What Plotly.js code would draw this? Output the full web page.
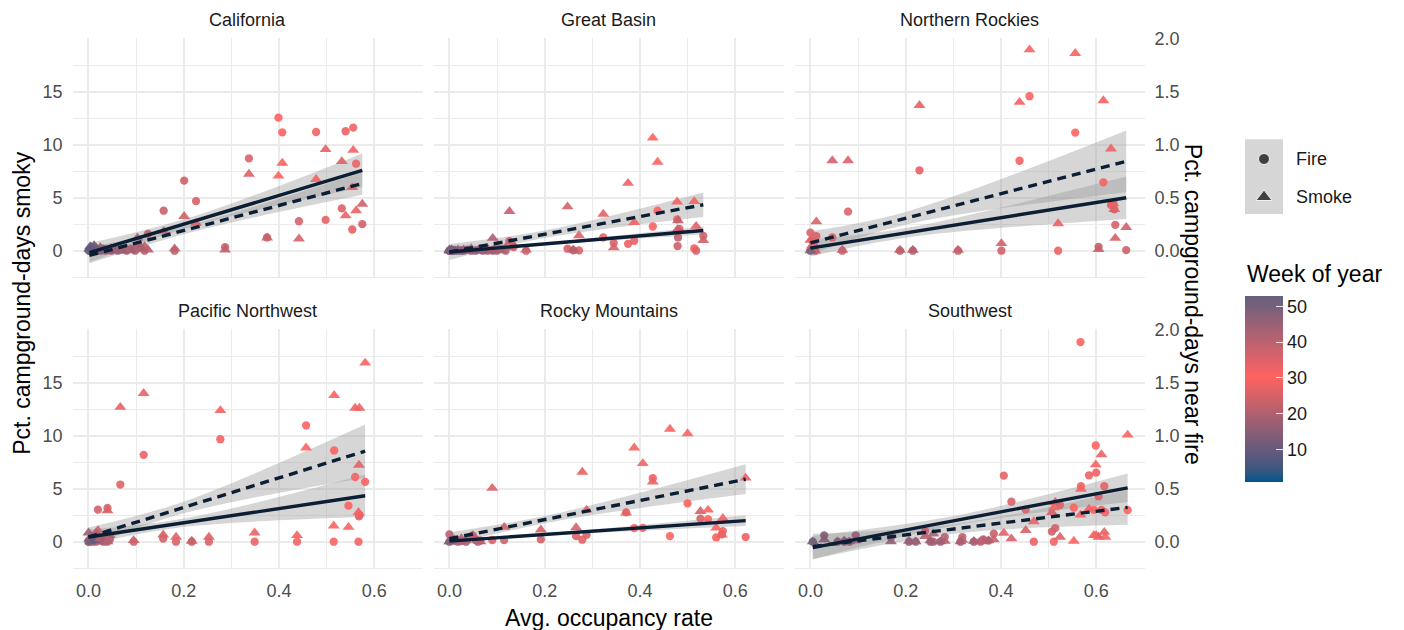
<!DOCTYPE html>
<html><head><meta charset="utf-8">
<script src="https://cdn.plot.ly/plotly-3.0.1.min.js"></script>
<style>html,body{margin:0;padding:0;background:#fff}#chart{width:1404px;height:630px}</style>
</head><body><div id="chart"></div>
<script>
// ---------------- DATA ----------------
const regions = ["California","Great Basin","Northern Rockies","Pacific Northwest","Rocky Mountains","Southwest"];

// California: avg occupancy, pct campground-days near fire, pct smoky, week of year
const occCA   = [0.399,0.407,0.478,0.540,0.556,0.562,0.337,0.201,0.226,0.158,0.125,0.442,0.498,0.532,0.554,0.575,0.375,0.287,0.181,0.103,
                 0.118,0.110,0.098,0.090,0.080,0.070,0.062,0.055,0.048,0.042,0.036,0.030,0.025,0.020,0.016,0.012,0.009,0.007,0.005,0.004,0.003,0.002];
const fireCA  = [1.254,1.116,1.119,1.126,1.160,0.820,0.870,0.660,0.468,0.377,0.159,0.278,0.290,0.399,0.200,0.250,0.125,0.034,0.000,0.030,
                 0.000,0.030,0.000,0.020,0.000,0.010,0.000,0.020,0.000,0.010,0.000,0.020,0.000,0.010,0.000,0.030,0.000,0.020,0.000,0.010,0.000,0.000];
const smokeCA = [7.05,8.26,6.73,3.30,9.48,3.77,7.23,3.24,2.59,1.84,0.09,1.12,9.54,8.42,5.96,4.40,1.22,0.09,0.19,1.20,
                 0.40,0.30,0.10,0.00,0.20,0.00,0.10,0.00,0.20,0.00,0.10,0.00,0.30,0.00,0.20,0.50,0.10,0.30,0.00,0.40,0.10,0.20];
const weekCA  = [31,30,29,28,32,33,26,24,25,23,21,36,34,35,27,37,38,39,22,20,
                 40,19,41,18,42,17,43,16,44,15,45,14,46,13,47,12,48,11,49,10,50,9];

// Great Basin
const occGB   = [0.427,0.437,0.375,0.248,0.126,0.323,0.478,0.514,0.388,0.272,0.483,0.518,0.345,0.533,0.161,0.091,0.480,0.479,0.260,0.135,
                 0.118,0.110,0.100,0.092,0.080,0.070,0.062,0.055,0.046,0.038,0.030,0.024,0.018,0.012,0.008,0.005,0.003,0.001,0.000,0.000];
const fireGB  = [0.228,0.377,0.065,0.019,0.090,0.125,0.296,0.022,0.094,0.003,0.206,0.000,0.072,0.140,0.000,0.000,0.125,0.044,0.003,0.034,
                 0.000,0.020,0.000,0.010,0.000,0.000,0.010,0.000,0.000,0.010,0.000,0.000,0.000,0.000,0.000,0.000,0.000,0.000,0.000,0.000];
const smokeGB = [10.63,8.36,6.36,4.15,3.71,3.46,4.61,4.65,2.68,1.43,1.96,2.31,0.28,0.97,0.09,1.18,2.84,2.00,0.10,0.50,
                 0.30,0.00,0.40,0.00,0.20,0.00,0.10,0.00,0.20,0.00,0.10,0.00,0.10,0.00,0.00,0.10,0.00,0.00,0.10,0.00];
const weekGB  = [30,31,28,25,23,27,32,29,33,26,34,35,36,24,37,19,22,38,21,39,
                 40,20,41,18,42,17,43,16,44,15,45,14,46,13,47,12,48,11,49,50];

// Northern Rockies
const occNR   = [0.460,0.556,0.439,0.615,0.229,0.046,0.079,0.631,0.636,0.638,0.640,0.520,0.663,0.401,0.605,0.067,0.188,0.215,0.310,0.0125,
                 0.000,0.004,0.008,0.002,0.010,0.000];
const fireNR  = [1.456,1.113,0.848,0.645,0.758,0.125,0.368,0.430,0.450,0.390,0.243,0.000,0.006,0.000,0.037,0.000,0.000,0.000,0.000,0.137,
                 0.170,0.095,0.050,0.020,0.000,0.000];
const smokeNR = [18.95,18.60,14.00,14.15,13.70,8.50,8.50,9.60,4.45,3.90,1.18,2.56,2.21,0.69,0.12,0.06,0.06,0.06,0.06,2.74,
                 1.00,0.50,0.00,0.30,0.00,0.00];
const weekNR  = [31,30,32,29,34,36,35,28,27,26,25,33,24,37,23,38,22,21,39,36,
                 35,34,37,33,38,50];

// Pacific Northwest
const occPNW   = [0.581,0.116,0.516,0.067,0.277,0.560,0.569,0.457,0.568,0.040,0.020,0.095,0.157,0.184,0.217,0.253,0.349,0.438,0.515,0.546,0.567,
                  0.000,0.002,0.004,0.008,0.012,0.016,0.025,0.032,0.040,0.045];
const firePNW  = [0.564,0.819,0.860,0.539,0.966,0.610,0.250,1.097,0.240,0.318,0.302,0.000,0.030,0.000,0.000,0.000,0.000,0.000,0.000,0.340,0.000,
                  0.000,0.000,0.010,0.000,0.020,0.000,0.010,0.000,0.000,0.020];
const smokePNW = [16.85,13.99,13.80,12.68,12.37,12.60,12.60,8.85,7.23,2.93,1.06,0.12,0.65,0.44,0.06,0.44,0.84,0.59,1.50,1.37,2.77,
                  0.84,0.30,0.00,0.50,0.10,0.80,0.30,0.20,0.00,0.60];
const weekPNW  = [30,33,31,34,32,29,28,30,27,36,37,24,25,35,23,26,28,29,31,30,32,
                  45,48,50,44,10,42,40,18,41,20];

// Rocky Mountains
const occRM   = [0.463,0.500,0.388,0.406,0.279,0.090,0.622,0.427,0.288,0.371,0.527,0.543,0.574,0.560,0.572,0.266,0.192,0.115,0.049,
                 0.000,0.000,0.010,0.018,0.025,0.035,0.055,0.060,0.065];
const fireRM  = [0.053,0.361,0.128,0.131,0.019,0.016,0.044,0.598,0.065,0.277,0.218,0.212,0.100,0.040,0.070,0.053,0.022,0.016,0.060,
                 0.069,0.000,0.010,0.000,0.005,0.000,0.015,0.000,0.010];
const smokeRM = [10.62,10.19,8.85,7.38,6.57,5.05,6.01,5.64,2.99,2.71,2.87,2.99,2.21,1.31,0.65,1.34,1.12,1.37,0.59,
                 0.00,0.00,0.20,0.10,0.30,0.10,0.30,0.10,0.00];
const weekRM  = [30,31,29,32,27,35,28,33,26,34,25,30,29,31,28,36,37,24,38,
                 40,50,42,44,41,43,39,22,21];

// Southwest
const occSW   = [0.567,0.568,0.599,0.600,0.611,0.585,0.406,0.617,0.605,0.422,0.524,0.553,0.452,0.595,0.619,0.666,0.514,0.507,0.469,0.511,
                 0.385,0.241,0.319,0.282,0.363,0.258,0.374,0.357,0.343,0.315,0.273,0.252,0.221,0.207,0.169,0.095,0.082,0.071,0.057,0.029,0.005];
const fireSW  = [1.882,0.523,0.907,0.651,0.300,0.626,0.623,0.523,0.427,0.377,0.346,0.321,0.302,0.300,0.277,0.299,0.128,0.096,0.000,0.000,
                 0.075,0.100,0.044,0.044,0.022,0.000,0.010,0.000,0.000,0.000,0.000,0.000,0.000,0.000,0.040,0.060,0.000,0.000,0.000,0.060,0.000];
const smokeSW = [2.52,4.95,7.26,0.59,8.22,3.09,0.81,0.90,0.44,0.28,0.44,0.06,1.06,0.60,0.44,10.06,3.71,2.77,1.90,3.21,
                 0.19,0.50,0.15,0.06,0.06,0.75,0.10,0.00,0.05,0.00,0.00,0.10,0.00,0.05,0.00,0.10,0.00,0.10,0.00,0.20,0.00];
const weekSW  = [30,29,31,32,28,33,34,27,35,36,26,30,25,31,29,30,24,37,28,32,
                 38,40,22,41,21,42,20,39,43,19,44,18,45,17,46,16,47,15,48,14,50];

// Linear fits (fire in "near fire" %, smoke in "smoky" %), at min and max occupancy
const fireFitStart  = [-0.019,-0.012,0.025,0.044,0.006,-0.055];
const fireFitEnd    = [0.758,0.190,0.499,0.433,0.199,0.508];
const smokeFitStart = [-0.44,-0.12,0.74,0.44,0.28,-0.45];
const smokeFitEnd   = [6.33,4.33,8.42,8.54,5.89,3.24];
// confidence band half-widths: [at min occupancy, narrowest, at max occupancy]
const fireBandHalf  = [[0.090,0.045,0.159],[0.025,0.012,0.038],[0.080,0.045,0.200],[0.070,0.040,0.200],[0.020,0.012,0.050],[0.110,0.045,0.134]];
const smokeBandHalf = [[0.75,0.35,1.06],[0.75,0.35,1.15],[1.10,0.60,2.90],[0.90,0.55,2.50],[0.60,0.35,1.40],[1.20,0.45,1.65]];
const bandNarrowOcc = [0.22,0.20,0.20,0.20,0.22,0.30];

const yTicksLeft = [0,5,10,15];
const yTicksRight = [0,0.5,1,1.5,2];
const xTicks = [0,0.2,0.4,0.6];
const weekTicks = [10,20,30,40,50];
const SEC_AXIS = 10; // secondary axis: near-fire % = smoky % / 10

// ---------------- LAYOUT / STYLE ----------------
const W = 1404, H = 630;
const occupancy = [occCA,occGB,occNR,occPNW,occRM,occSW];
const fireVals  = [fireCA,fireGB,fireNR,firePNW,fireRM,fireSW];
const smokeVals = [smokeCA,smokeGB,smokeNR,smokePNW,smokeRM,smokeSW];
const weeks     = [weekCA,weekGB,weekNR,weekPNW,weekRM,weekSW];

const colLeft = [72.5, 433.5, 794.5], panelW = 350;
const rowTop = [38.3, 329.3], panelH = 240;
const xRange = [-0.0334, 0.7014];
const yRange = [-2.6, 20.02];
const FONT = 'Liberation Sans, Arial, sans-serif';
const gridCol = '#EBEBEB';
const lineCol = '#0B1E33';
const bandFill = 'rgba(153,153,153,0.4)';
const cmin = 1, cmax = 53;
const colorscale = [
  [0.0,'#01558A'],[0.0577,'#36577F'],[0.1154,'#52587E'],[0.1731,'#665A7C'],[0.2692,'#8A5D76'],
  [0.3654,'#AF6070'],[0.4615,'#D66268'],[0.5673,'#FF6361'],[0.6538,'#DE6269'],[0.75,'#BD6270'],
  [0.8462,'#9B6176'],[0.9423,'#78607B'],[1.0,'#64607E']];

const cbTop = 295.6, cbLen = 185.5, cbLeft = 1245, cbThick = 38;

const layout = {
  width: W, height: H, margin: {l:0,r:0,t:0,b:0},
  paper_bgcolor: '#fff', plot_bgcolor: '#fff', showlegend: false, hovermode: false,
  font: {family: FONT, size: 18, color: '#4D4D4D'},
  annotations: [], shapes: []
};
const traces = [];

regions.forEach((name, i) => {
  const r = Math.floor(i/3), c = i % 3, k = i + 1;
  const xa = 'xaxis' + k, ya = 'yaxis' + k;
  layout[xa] = {
    domain: [colLeft[c]/W, (colLeft[c]+panelW)/W], anchor: 'y'+k, range: xRange,
    tickmode: 'array', tickvals: xTicks, ticktext: xTicks.map(v => v.toFixed(1)),
    showticklabels: r === 1, ticks: '', ticklabelstandoff: 9,
    showgrid: true, gridcolor: gridCol, gridwidth: 2,
    minor: {tickmode: 'linear', tick0: 0.1, dtick: 0.2, showgrid: true, gridcolor: gridCol, gridwidth: 1},
    zeroline: false, showline: false, fixedrange: true,
    tickfont: {family: FONT, size: 18, color: '#4D4D4D'}
  };
  layout[ya] = {
    domain: [1-(rowTop[r]+panelH)/H, 1-rowTop[r]/H], anchor: 'x'+k, range: yRange,
    tickmode: 'array', tickvals: yTicksLeft, ticktext: yTicksLeft.map(String),
    showticklabels: c === 0, ticks: '', ticklabelstandoff: 9,
    showgrid: true, gridcolor: gridCol, gridwidth: 2,
    minor: {tickmode: 'linear', tick0: -2.5, dtick: 5, showgrid: true, gridcolor: gridCol, gridwidth: 1},
    zeroline: false, showline: false, fixedrange: true,
    tickfont: {family: FONT, size: 18, color: '#4D4D4D'}
  };

  const occ = occupancy[i];
  const x0 = Math.min(...occ), x1 = Math.max(...occ), xm = bandNarrowOcc[i];
  const lineAt = (s, e, x) => s + (e - s) * (x - x0) / (x1 - x0);
  const bx = [x0, xm, x1];
  const xs = {xaxis: 'x'+k, yaxis: 'y'+k, hoverinfo: 'skip', showlegend: false};

  // fire band (secondary scale)
  const fc = bx.map(x => lineAt(fireFitStart[i], fireFitEnd[i], x));
  traces.push(Object.assign({type:'scatter', mode:'lines', x: bx, y: fc.map((v,j)=>(v - fireBandHalf[i][j])*SEC_AXIS),
    line:{width:0, shape:'spline'}}, xs));
  traces.push(Object.assign({type:'scatter', mode:'lines', x: bx, y: fc.map((v,j)=>(v + fireBandHalf[i][j])*SEC_AXIS),
    line:{width:0, shape:'spline'}, fill:'tonexty', fillcolor: bandFill}, xs));
  // smoke band
  const sc = bx.map(x => lineAt(smokeFitStart[i], smokeFitEnd[i], x));
  traces.push(Object.assign({type:'scatter', mode:'lines', x: bx, y: sc.map((v,j)=>v - smokeBandHalf[i][j]),
    line:{width:0, shape:'spline'}}, xs));
  traces.push(Object.assign({type:'scatter', mode:'lines', x: bx, y: sc.map((v,j)=>v + smokeBandHalf[i][j]),
    line:{width:0, shape:'spline'}, fill:'tonexty', fillcolor: bandFill}, xs));

  // points
  const mk = (sym, size) => ({symbol: sym, size: size, color: weeks[i], colorscale: colorscale,
    cmin: cmin, cmax: cmax, opacity: 0.9, line: {width: 0}});
  const firePts = Object.assign({type:'scatter', mode:'markers', x: occ, y: fireVals[i].map(v => v*SEC_AXIS),
    marker: mk('circle', 8.3)}, xs);
  if (i === 0) {
    firePts.marker.showscale = true;
    firePts.marker.colorbar = {
      thicknessmode:'pixels', thickness: cbThick, lenmode:'pixels', len: cbLen,
      x: cbLeft/W, xanchor:'left', y: 1-cbTop/H, yanchor:'top', xpad:0, ypad:0,
      outlinewidth: 0, tickmode:'array', tickvals: weekTicks, ticktext: weekTicks.map(String),
      ticks:'inside', ticklen: 7, tickcolor:'rgba(255,255,255,0.85)', tickwidth: 1.2,
      tickfont:{family: FONT, size: 18, color:'#1A1A1A'}, title:{text:''}
    };
  }
  traces.push(firePts);
  traces.push(Object.assign({type:'scatter', mode:'markers', x: occ, y: smokeVals[i],
    marker: mk('triangle-up', 10.5)}, xs));

  // fit lines
  traces.push(Object.assign({type:'scatter', mode:'lines', x:[x0,x1],
    y:[fireFitStart[i]*SEC_AXIS, fireFitEnd[i]*SEC_AXIS], line:{color: lineCol, width: 3.4}}, xs));
  traces.push(Object.assign({type:'scatter', mode:'lines', x:[x0,x1],
    y:[smokeFitStart[i], smokeFitEnd[i]], line:{color: lineCol, width: 3.4, dash:'9px,6px'}}, xs));

  // strip title
  layout.annotations.push({text: name, xref:'paper', yref:'paper',
    x: (colLeft[c]+panelW/2)/W, y: 1-(rowTop[r]-18.5)/H, xanchor:'center', yanchor:'middle',
    showarrow:false, font:{family: FONT, size: 18, color:'#1A1A1A'}});
});

// secondary (right) axes for right column
[[3,7],[6,8]].forEach(([k, s]) => {
  layout['yaxis'+s] = {
    overlaying: 'y'+k, anchor: 'x'+k, side: 'right', range: yRange.map(v => v/SEC_AXIS),
    tickmode: 'array', tickvals: yTicksRight, ticktext: yTicksRight.map(v => v.toFixed(1)),
    ticks: '', ticklabelstandoff: 9, showgrid: false, zeroline: false, showline: false, fixedrange: true,
    tickfont: {family: FONT, size: 18, color: '#4D4D4D'}
  };
  traces.push({type:'scatter', mode:'markers', x:[0], y:[0], xaxis:'x'+k, yaxis:'y'+s,
    marker:{opacity:0, size:1}, hoverinfo:'skip', showlegend:false});
});

// axis titles
layout.annotations.push({text:'Avg. occupancy rate', xref:'paper', yref:'paper',
  x: (colLeft[1]+panelW/2)/W, y: 1-618/H, xanchor:'center', yanchor:'middle', showarrow:false,
  font:{family: FONT, size: 23, color:'#000'}});
layout.annotations.push({text:'Pct. campground-days smoky', xref:'paper', yref:'paper',
  x: 22/W, y: 1-(rowTop[0]+rowTop[1]+panelH)/2/H, xanchor:'center', yanchor:'middle', textangle:-90,
  showarrow:false, font:{family: FONT, size: 23, color:'#000'}});
layout.annotations.push({text:'Pct. campground-days near fire', xref:'paper', yref:'paper',
  x: 1193/W, y: 1-(rowTop[0]+rowTop[1]+panelH)/2/H, xanchor:'center', yanchor:'middle', textangle:90,
  showarrow:false, font:{family: FONT, size: 23, color:'#000'}});

// shape legend
const keyL = 1245, keyR = 1283, keyT = 139.3, keyB = 214;
layout.shapes.push({type:'rect', xref:'paper', yref:'paper', x0: keyL/W, x1: keyR/W, y0: 1-keyB/H, y1: 1-keyT/H,
  fillcolor:'#D6D6D6', line:{width:0}, layer:'below'});
const legendLabels = ['Fire','Smoke'];
const legendSymbols = ['circle','triangle-up'];
const legendRows = [159, 197];
layout.xaxis9 = {domain:[keyL/W, keyR/W], anchor:'y9', range:[0,1], visible:false, fixedrange:true};
layout.yaxis9 = {domain:[1-keyB/H, 1-keyT/H], anchor:'x9', range:[keyB, keyT], visible:false, fixedrange:true};
traces.push({type:'scatter', mode:'markers', x:[0.5,0.5], y: legendRows, xaxis:'x9', yaxis:'y9',
  marker:{symbol: legendSymbols, size:[11,14], color:'#000'}, hoverinfo:'skip', showlegend:false});
legendLabels.forEach((t, j) => layout.annotations.push({text: t, xref:'paper', yref:'paper',
  x: 1294/W, y: 1-legendRows[j]/H, xanchor:'left', yanchor:'middle', showarrow:false,
  font:{family: FONT, size: 18, color:'#1A1A1A'}}));

// colorbar title and left-side tick marks
layout.annotations.push({text:'Week of year', xref:'paper', yref:'paper', x: cbLeft/W, y: 1-274/H,
  xanchor:'left', yanchor:'middle', showarrow:false, font:{family: FONT, size: 23, color:'#000'}});
weekTicks.forEach(w => {
  const yp = (cbTop + cbLen) - (w - cmin)/(cmax - cmin)*cbLen;
  layout.shapes.push({type:'line', xref:'paper', yref:'paper', x0: cbLeft/W, x1: (cbLeft+7)/W,
    y0: 1-yp/H, y1: 1-yp/H, line:{color:'rgba(255,255,255,0.85)', width:1.2}, layer:'above'});
});

Plotly.newPlot('chart', traces, layout, {staticPlot: true, displayModeBar: false});
</script>
</body></html>
